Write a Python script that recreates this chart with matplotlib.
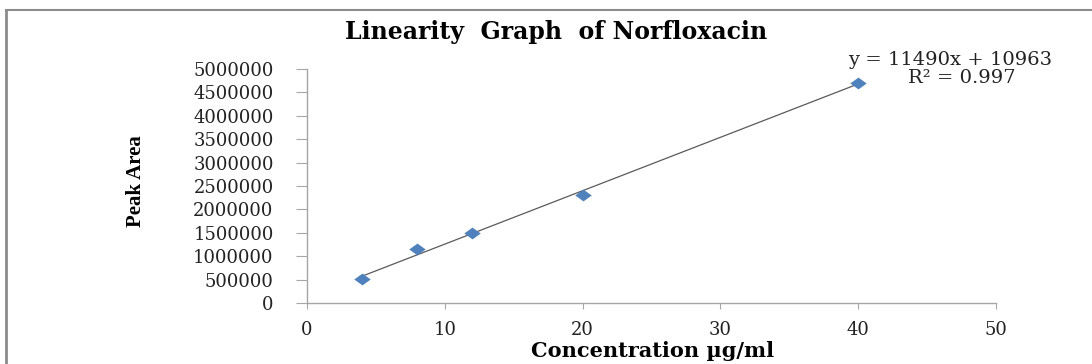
import numpy as np
import matplotlib
matplotlib.use("Agg")
import matplotlib.pyplot as plt
from matplotlib.lines import Line2D
from matplotlib.path import Path

# values
conc = [4, 8, 12, 20, 40]
peak_area = [510000, 1160000, 1490000, 2300000, 4710000]
x_ticks = [0, 10, 20, 30, 40, 50]
y_ticks = [0, 500000, 1000000, 1500000, 2000000, 2500000, 3000000, 3500000, 4000000, 4500000, 5000000]
title = "Linearity  Graph  of Norfloxacin"
eq_text = "y = 11490x + 10963"
r2_text = "R\u00b2 = 0.997"

W, H = 1092, 364
fig = plt.figure(figsize=(W / 100, H / 100), dpi=100)
fig.patch.set_facecolor("white")

ax = fig.add_axes([307 / W, 1 - 303 / H, (996 - 307) / W, (303 - 69) / H])

# flattened diamond like the Excel marker
diamond = Path([(-1, 0), (0, 0.72), (1, 0), (0, -0.72), (-1, 0)],
               [Path.MOVETO, Path.LINETO, Path.LINETO, Path.LINETO, Path.CLOSEPOLY])

coef = np.polyfit(conc, peak_area, 1)
xs = np.array([min(conc), max(conc)])
ax.plot(xs, np.polyval(coef, xs), color="#5a5a5a", lw=0.9, zorder=2)
ax.scatter(conc, peak_area, marker=diamond, s=140, color="#4f81bd", zorder=3, linewidths=0)

ax.set_xlim(0, 50)
ax.set_ylim(0, 5000000)
ax.set_xticks(x_ticks)
ax.set_yticks(y_ticks)
ax.set_xticklabels([str(v) for v in x_ticks], family="DejaVu Serif", fontsize=13, color="#222222")
ax.set_yticklabels([str(v) for v in y_ticks], family="DejaVu Serif", fontsize=13, color="#222222")

for s in ["top", "right"]:
    ax.spines[s].set_visible(False)
for s in ["left", "bottom"]:
    ax.spines[s].set_color("#a6a6a6")
    ax.spines[s].set_linewidth(1.0)
ax.tick_params(axis="y", direction="out", length=8, color="#a6a6a6", pad=16)
ax.tick_params(axis="x", direction="out", length=4, color="#a6a6a6", pad=9)
ax.patch.set_alpha(0)

fig.text(556 / W, 1 - 32 / H, title, ha="center", va="center",
         family="DejaVu Serif", fontweight="bold", fontsize=17)
fig.text(136 / W, 1 - 181 / H, "Peak Area", ha="center", va="center", rotation=90,
         family="Liberation Serif", fontweight="bold", fontsize=15)
fig.text(653 / W, 1 - 351 / H, "Concentration \u00b5g/ml", ha="center", va="center",
         family="DejaVu Serif", fontweight="bold", fontsize=15)
fig.text(848 / W, 1 - 60 / H, eq_text, ha="left", va="center",
         family="DejaVu Serif", fontsize=14, color="#222222")
fig.text(908 / W, 1 - 78 / H, r2_text, ha="left", va="center",
         family="DejaVu Serif", fontsize=14, color="#222222")

# outer frame (left and top edges visible in the crop)
fig.add_artist(Line2D([6 / W, 6 / W], [0, 1 - 10 / H], color="#8c8c8c", lw=2))
fig.add_artist(Line2D([6 / W, 1], [1 - 10 / H, 1 - 10 / H], color="#8c8c8c", lw=1.5))

fig.savefig("out.png", dpi=100)
